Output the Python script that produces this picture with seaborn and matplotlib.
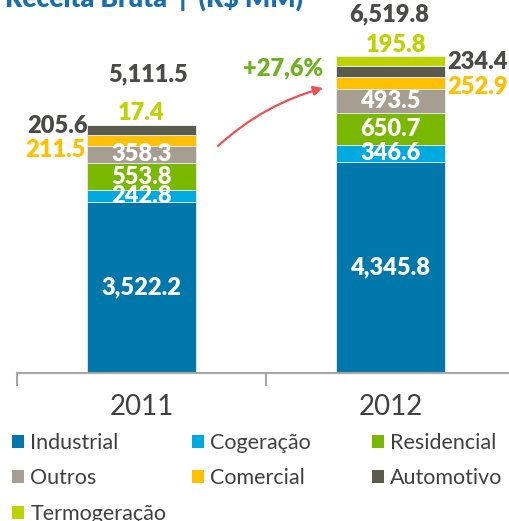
import numpy as np
import pandas as pd
import seaborn as sns
import matplotlib.pyplot as plt
from matplotlib.patches import Patch

# Receita bruta por segmento (R$ MM)
anos = ['2011', '2012']
segmentos = ['Industrial', 'Cogeração', 'Residencial', 'Outros', 'Comercial', 'Automotivo', 'Termogeração']
industrial = [3522.2, 4345.8]
cogeracao = [242.8, 346.6]
residencial = [553.8, 650.7]
outros = [358.3, 493.5]
comercial = [211.5, 252.9]
automotivo = [205.6, 234.4]
termogeracao = [17.4, 195.8]
totais = [5111.5, 6519.8]
crescimento = '+27,6%'

cores = ['#0077AA', '#00A9DE', '#7AB800', '#A69E90', '#FFC000', '#5A5A4D', '#BDD300']

df = pd.DataFrame(
    {'Industrial': industrial, 'Cogeração': cogeracao, 'Residencial': residencial, 'Outros': outros,
     'Comercial': comercial, 'Automotivo': automotivo, 'Termogeração': termogeracao},
    index=anos)
topo = df.sum(axis=1)

sns.set_theme(style='white')
plt.rcParams['font.family'] = ['Lato', 'DejaVu Sans']
peso = 'heavy'

fig = plt.figure(figsize=(5.10, 5.21), dpi=100)
ymax = 7000
px_por_un = 0.0486
ax = fig.add_axes([17 / 510, 148 / 521, 498 / 510, ymax * px_por_un / 521])

largura = 0.435
base = np.zeros(len(anos))
for seg, cor in zip(segmentos, cores):
    sns.barplot(x=anos, y=df[seg].values, bottom=base, color=cor, width=largura, saturation=1,
                errorbar=None, edgecolor='#E8F0F4', linewidth=0.6, ax=ax)
    base = base + df[seg].values

ax.set_xlim(-0.5, 1.5)
ax.set_ylim(0, ymax)

# rótulos dentro das barras
base = np.zeros(len(anos))
for seg in segmentos:
    vals = df[seg].values
    if seg in ['Industrial', 'Cogeração', 'Residencial', 'Outros']:
        for i, v in enumerate(vals):
            ax.text(i, base[i] + v / 2, f'{v:,.1f}', ha='center', va='center', color='white',
                    fontsize=17, fontweight=peso)
    base = base + vals

meio = df.cumsum(axis=1) - df / 2
cinza = '#4A4A48'

# totais
for i, t in enumerate(totais):
    ax.annotate(f'{t:,.1f}', xy=(i, topo.iloc[i]), xytext=(-1, 30) if i else (5, 36), textcoords='offset points',
                ha='center', va='center', color=cinza, fontsize=17, fontweight=peso)

# 2011 - fatias pequenas
ax.annotate(f'{termogeracao[0]:,.1f}', xy=(0, topo.iloc[0]), xytext=(0, 8), textcoords='offset points',
            ha='center', va='center', color='#BDD300', fontsize=17, fontweight=peso)
ax.annotate(f'{automotivo[0]:,.1f}', xy=(-largura / 2, meio.loc['2011', 'Automotivo']), xytext=(0, 3),
            textcoords='offset points', ha='right', va='center', color=cinza, fontsize=17, fontweight=peso)
ax.annotate(f'{comercial[0]:,.1f}', xy=(-largura / 2, meio.loc['2011', 'Comercial']), xytext=(-1.5, -7),
            textcoords='offset points', ha='right', va='center', color='#FFC000', fontsize=17, fontweight=peso)

# 2012 - fatias pequenas
ax.annotate(f'{termogeracao[1]:,.1f}', xy=(1, topo.iloc[1]), xytext=(4, 8), textcoords='offset points',
            ha='center', va='center', color='#BDD300', fontsize=17, fontweight=peso)
ax.annotate(f'{automotivo[1]:,.1f}', xy=(1 + largura / 2, meio.loc['2012', 'Automotivo']), xytext=(2, 6.8),
            textcoords='offset points', ha='left', va='center', color=cinza, fontsize=17, fontweight=peso)
ax.annotate(f'{comercial[1]:,.1f}', xy=(1 + largura / 2, meio.loc['2012', 'Comercial']), xytext=(2, -2.7),
            textcoords='offset points', ha='left', va='center', color='#FFC000', fontsize=17, fontweight=peso)

# crescimento + seta
ax.text(0.568, 6276, crescimento, ha='center', va='center', color='#6EB21E', fontsize=17, fontweight=peso)
ax.annotate('', xy=(0.729, 5864), xytext=(0.307, 4671),
            arrowprops=dict(arrowstyle='-|>', color='#F25050', lw=1.6, mutation_scale=14,
                            connectionstyle='arc3,rad=-0.12', shrinkA=0, shrinkB=0))

# eixos
sns.despine(ax=ax, left=True, top=True, right=True)
ax.spines['bottom'].set_color('#A6A6A6')
ax.spines['bottom'].set_linewidth(1.5)
ax.set_yticks([])
ax.set_xticks([0, 1])
ax.set_xticklabels(anos, fontsize=20, color='#404040')
ax.set_xticks([-0.5, 0.5, 1.5], minor=True)
ax.tick_params(axis='x', which='major', length=0, pad=15)
ax.tick_params(axis='x', which='minor', length=9, width=1.5, color='#A6A6A6', direction='out', bottom=True)
ax.set_xlabel('')
ax.set_ylabel('')

# título (cortado no topo)
fig.text(303 / 510, 1 - 7 / 521, 'Receita Bruta  |  (R$ MM)', ha='right', va='baseline',
         color='#1A6FAA', fontsize=19, fontweight=peso)

# legenda em três colunas
handles = {s: Patch(facecolor=c, edgecolor='none') for s, c in zip(segmentos, cores)}
colunas = [['Industrial', 'Outros', 'Termogeração'], ['Cogeração', 'Comercial'], ['Residencial', 'Automotivo']]
for x0, col in zip([12, 192, 372], colunas):
    leg = fig.legend([handles[s] for s in col], col, loc='upper left', bbox_to_anchor=(x0 / 510, 1 - 433 / 521),
                     frameon=False, fontsize=15.5, handlelength=0.55, handleheight=0.55, handletextpad=0.3,
                     labelspacing=0.72, borderpad=0, borderaxespad=0)
    for t in leg.get_texts():
        t.set_color('#404040')

fig.savefig('out.png', dpi=100)
